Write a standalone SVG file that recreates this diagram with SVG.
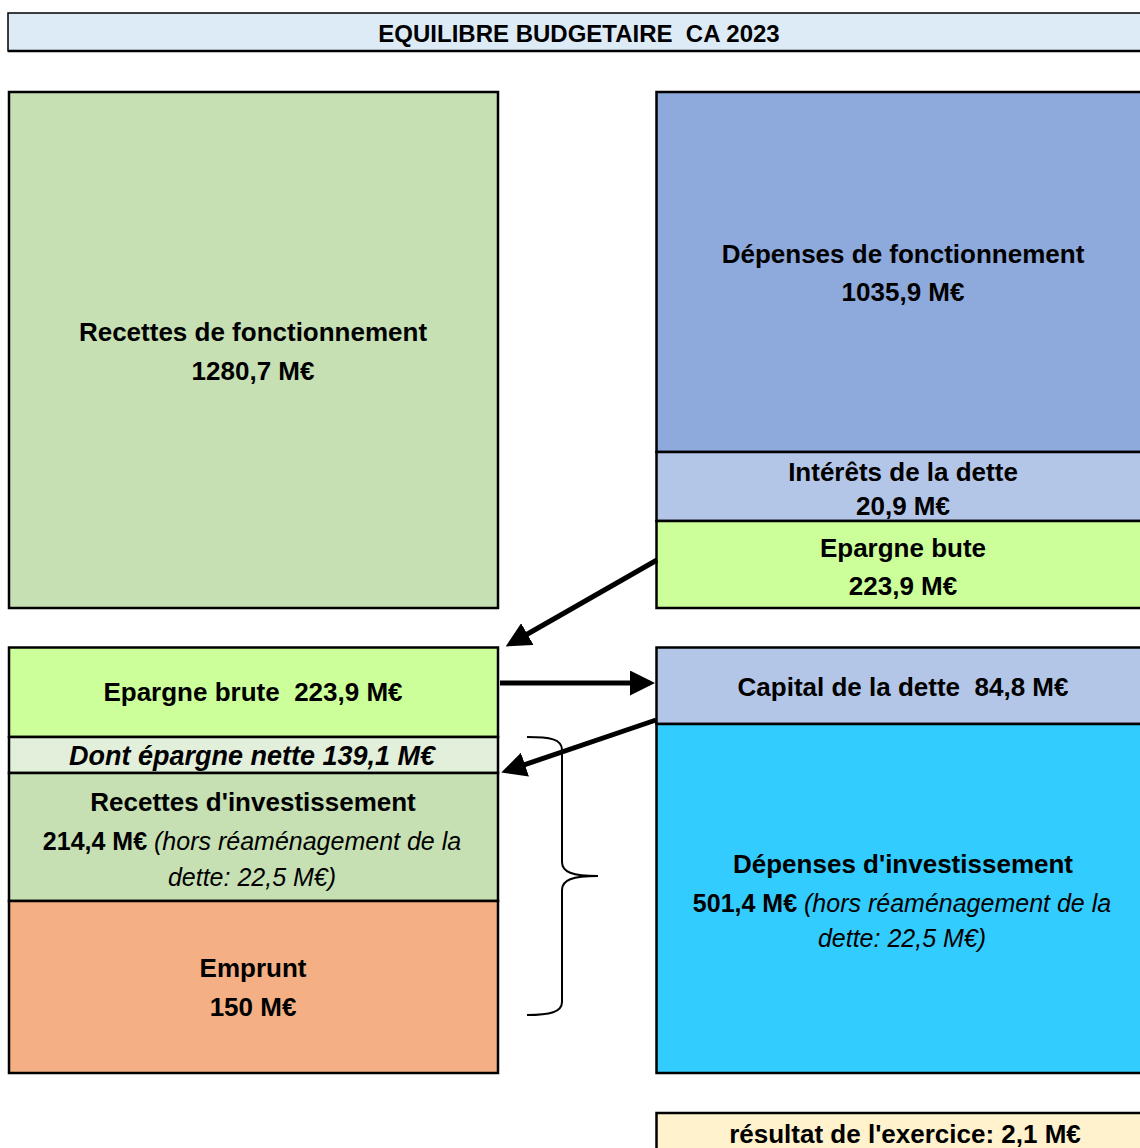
<svg xmlns="http://www.w3.org/2000/svg" width="1140" height="1148" viewBox="0 0 1140 1148">
<defs>
<style>
.box{stroke:#000;stroke-width:2.5}
.t{font-family:"Liberation Sans",Arial,sans-serif;font-size:26px;font-weight:bold;fill:#000;text-anchor:middle}
.s{font-size:25px}
.i{font-style:italic;font-weight:normal}
.bi{font-style:italic;font-size:27px}
.conn{stroke:#000;stroke-width:5;fill:none}
</style>
<marker id="ah" markerWidth="5" markerHeight="5" refX="4" refY="2.5" orient="auto" markerUnits="strokeWidth">
<path d="M0,0 L5,2.5 L0,5 Z" fill="#000"/>
</marker>
</defs>
<rect width="1140" height="1148" fill="#fff"/>

<g id="header">
<rect x="8" y="13" width="1134" height="38" fill="#DDEBF7" stroke="#000" stroke-width="1.5"/>
<line x1="8" y1="51" x2="1140" y2="51" stroke="#000" stroke-width="2.5"/>
<text class="t" x="579" y="42" style="font-size:24px;white-space:pre" xml:space="preserve">EQUILIBRE BUDGETAIRE  CA 2023</text>
</g>

<g id="recettes-fonctionnement">
<rect class="box" x="9" y="92" width="489" height="516" fill="#C6E0B4"/>
<text class="t" x="253" y="341">Recettes de fonctionnement</text>
<text class="t" x="253" y="380">1280,7 M€</text>
</g>

<g id="depenses-fonctionnement">
<rect class="box" x="656.5" y="92" width="486" height="360" fill="#8EA9DB"/>
<text class="t" x="903" y="263">Dépenses de fonctionnement</text>
<text class="t" x="903" y="301">1035,9 M€</text>
</g>

<g id="interets-dette">
<rect class="box" x="656.5" y="452" width="486" height="69" fill="#B4C6E7"/>
<text class="t" x="903" y="481">Intérêts de la dette</text>
<text class="t" x="903" y="515">20,9 M€</text>
</g>

<g id="epargne-bute">
<rect class="box" x="656.5" y="521" width="486" height="87" fill="#CCFF99"/>
<text class="t" x="903" y="557">Epargne bute</text>
<text class="t" x="903" y="595">223,9 M€</text>
</g>

<g id="epargne-brute">
<rect class="box" x="9" y="647.5" width="489" height="89.5" fill="#CCFF99"/>
<text class="t" x="253" y="701" style="white-space:pre" xml:space="preserve">Epargne brute  223,9 M€</text>
</g>

<g id="epargne-nette">
<rect class="box" x="9" y="737" width="489" height="36" fill="#E2EFDA"/>
<text class="t bi" x="252" y="765">Dont épargne nette 139,1 M€</text>
</g>

<g id="recettes-investissement">
<rect class="box" x="9" y="773" width="489" height="128" fill="#C6E0B4"/>
<text class="t" x="253" y="811">Recettes d'investissement</text>
<text class="t s" x="252" y="850">214,4 M€ <tspan class="i">(hors réaménagement de la</tspan></text>
<text class="t s i" x="252" y="886">dette: 22,5 M€)</text>
</g>

<g id="emprunt">
<rect class="box" x="9" y="901" width="489" height="172" fill="#F4B084"/>
<text class="t" x="253" y="977">Emprunt</text>
<text class="t" x="253" y="1016">150 M€</text>
</g>

<g id="capital-dette">
<rect class="box" x="656.5" y="647.5" width="486" height="76.5" fill="#B4C6E7"/>
<text class="t" x="903" y="696" style="white-space:pre" xml:space="preserve">Capital de la dette  84,8 M€</text>
</g>

<g id="depenses-investissement">
<rect class="box" x="656.5" y="724" width="486" height="349" fill="#33CCFF"/>
<text class="t" x="903" y="873">Dépenses d'investissement</text>
<text class="t s" x="902" y="912">501,4 M€ <tspan class="i">(hors réaménagement de la</tspan></text>
<text class="t s i" x="902" y="947">dette: 22,5 M€)</text>
</g>

<g id="resultat">
<rect class="box" x="656.5" y="1113" width="486" height="40" fill="#FFF2CC"/>
<text class="t" x="905" y="1143">résultat de l'exercice: 2,1 M€</text>
</g>

<g id="connectors">
<line class="conn" x1="657" y1="560" x2="510" y2="644" marker-end="url(#ah)"/>
<line class="conn" x1="500" y1="683" x2="650" y2="683" marker-end="url(#ah)"/>
<line class="conn" x1="656" y1="720" x2="506" y2="771" marker-end="url(#ah)"/>
<path d="M527,737 C550,737 562,739 562,750 L562,862 C562,872 572,876 598,876 C572,876 562,880 562,890 L562,1002 C562,1012 550,1015 527,1015" fill="none" stroke="#000" stroke-width="2"/>
</g>
</svg>
